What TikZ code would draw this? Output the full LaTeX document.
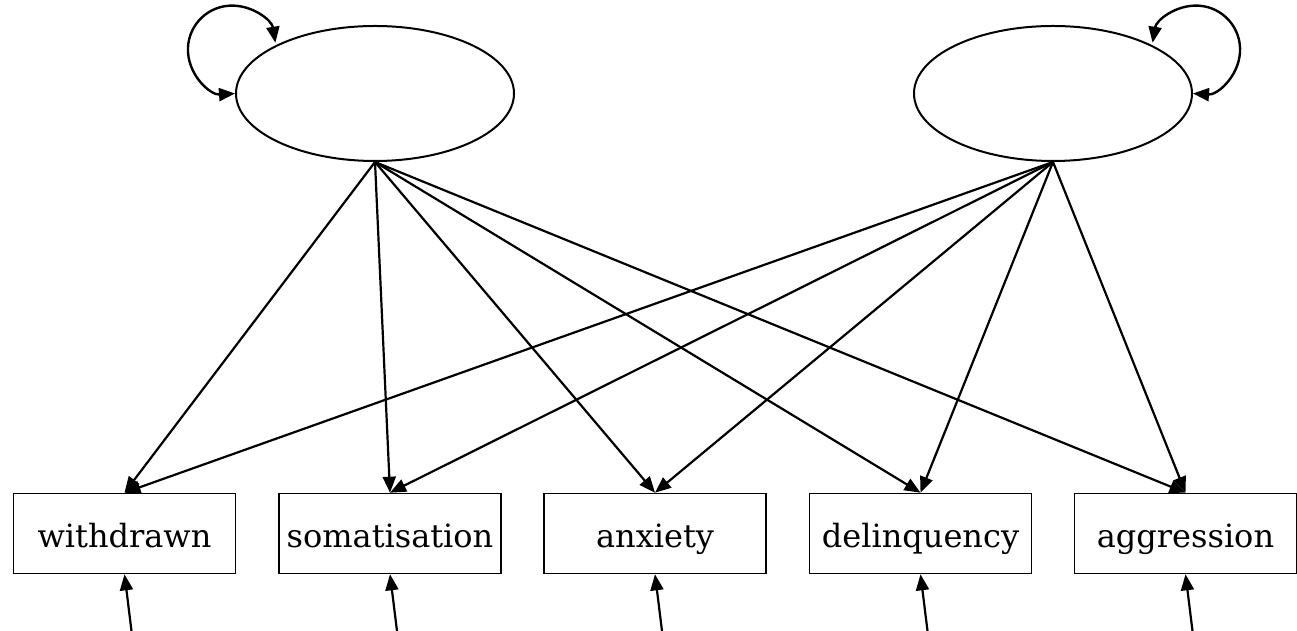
\documentclass[tikz,border=0pt]{standalone}
\usepackage{fontspec}
\setmainfont{DejaVu Serif}
\usetikzlibrary{arrows.meta,shapes.geometric}
\begin{document}
\begin{tikzpicture}[x=1pt,y=1pt,
  latent/.style={ellipse, draw, line width=2pt, minimum width=278pt,
    minimum height=135pt, inner sep=0pt},
  observed/.style={rectangle, draw, line width=1.6pt, minimum width=222pt,
    minimum height=80pt, inner sep=0pt, text height=30pt, text depth=1pt,
    font=\fontsize{32}{38}\selectfont},
  loading/.style={line width=2.2pt, -{Triangle[length=16pt,width=13pt]}},
  variance/.style={line width=2.4pt,
    {Triangle[length=16pt,width=13pt]}-{Triangle[length=16pt,width=13pt]}}]
\useasboundingbox (0,0) rectangle (1297,631);

% latent factors
\node[latent] (F1) at (375,537.5) {};
\node[latent] (F2) at (1053,537.5) {};

% observed indicators
\node[observed] (wd) at (124.5,97.5) {withdrawn};
\node[observed] (so) at (390,97.5) {somatisation};
\node[observed] (an) at (655,97.5) {anxiety};
\node[observed] (de) at (920.5,97.5) {delinquency};
\node[observed] (ag) at (1185.5,97.5) {aggression};

% factor variances
\draw[variance] (F1.west) arc[start angle=274, end angle=9, radius=44];
\draw[variance] (F2.east) arc[start angle=266, end angle=531, radius=44];

% loadings
\foreach \v in {wd,so,an,de,ag}{
  \draw[loading] (F1.south) -- (\v.north);
  \draw[loading] (F2.south) -- (\v.north);
}

% residual terms
\coordinate (ewd) at (131.5,0);
\coordinate (eso) at (397,0);
\coordinate (ean) at (662,0);
\coordinate (ede) at (927.5,0);
\coordinate (eag) at (1192.5,0);
\foreach \v in {wd,so,an,de,ag}{
  \draw[loading] (e\v) -- (\v.south);
}
\end{tikzpicture}
\end{document}
